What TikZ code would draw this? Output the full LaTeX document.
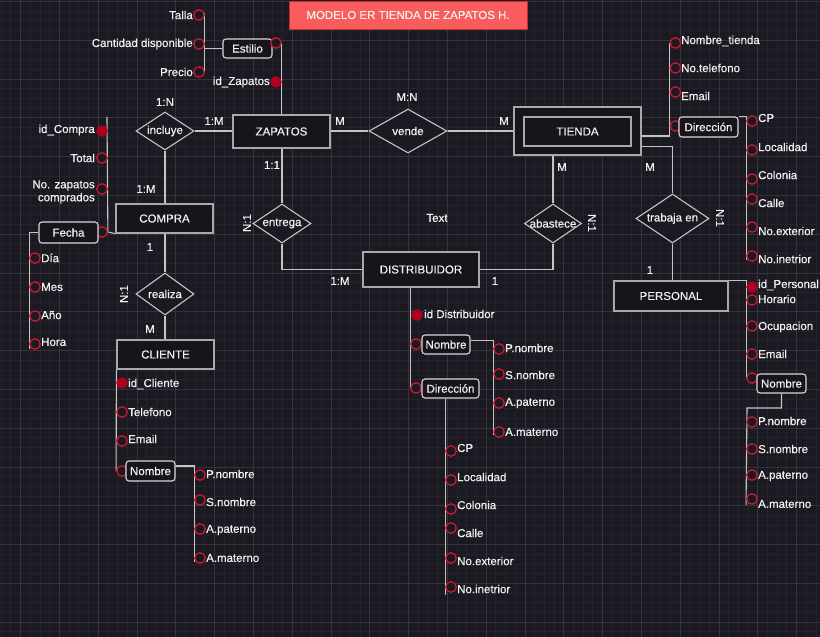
\documentclass[tikz,border=0pt]{standalone}
\usepackage{fontspec}
\setmainfont{Liberation Sans}[FakeBold=0.4]
\usetikzlibrary{shapes.geometric,calc}
\pgfdeclarelayer{back}
\pgfdeclarelayer{edges}
\pgfsetlayers{back,edges,main}
\definecolor{bg}{HTML}{1B1921}
\definecolor{gminor}{HTML}{25222C}
\definecolor{gmajor}{HTML}{36333D}
\definecolor{ln}{HTML}{C4C4C4}
\definecolor{ebord}{HTML}{A9A9A9}
\definecolor{cbord}{HTML}{D8D8D8}
\definecolor{efill}{HTML}{17151B}
\definecolor{attred}{HTML}{C8192F}
\definecolor{keyred}{HTML}{B0001F}
\definecolor{titlered}{HTML}{F85C5C}
\definecolor{titlebord}{HTML}{C03030}
\definecolor{txt}{HTML}{F2F2F2}
\tikzset{
  every node/.style={font=\fontsize{11.5}{13.5}\selectfont, text=txt},
  ent/.style={rectangle, draw=ebord, fill=efill, line width=1.2pt, inner sep=0pt},
  rel/.style={diamond, draw=ln, fill=bg, line width=1.1pt, inner sep=0pt},
  att/.style={circle, draw=attred, fill=bg, line width=1.3pt, minimum size=10.5pt, inner sep=0pt},
  keyatt/.style={circle, draw=keyred, fill=keyred, line width=1pt, minimum size=10.5pt, inner sep=0pt},
  comp/.style={rectangle, rounded corners=3pt, draw=cbord, fill=efill, line width=1.1pt, inner sep=0pt},
  con/.style={draw=ln, line width=1.1pt},
  txl/.style={inner sep=0pt},
  titlebox/.style={rectangle, fill=titlered, draw=titlebord, line width=0.8pt, inner sep=0pt},
}
\begin{document}
\begin{tikzpicture}[x=1pt,y=-1pt]
\useasboundingbox (0,0) rectangle (820,637);
\begin{pgfonlayer}{back}
\fill[bg] (0,0) rectangle (820,637);
\foreach \i in {0,...,84} \draw[gminor, line width=0.5pt] ({1.0+9.7*\i},0) -- ({1.0+9.7*\i},637);
\foreach \j in {0,...,65} \draw[gminor, line width=0.5pt] (0,{1.2+9.7*\j}) -- (820,{1.2+9.7*\j});
\foreach \i in {0,...,21} \draw[gmajor, line width=0.6pt] ({20.4+38.8*\i},0) -- ({20.4+38.8*\i},637);
\foreach \j in {0,...,16} \draw[gmajor, line width=0.6pt] (0,{1.2+38.8*\j}) -- (820,{1.2+38.8*\j});
\end{pgfonlayer}

% title
\node[titlebox, minimum width=238pt, minimum height=28pt] (title) at (408,15) {MODELO ER TIENDA DE ZAPATOS H.};

% entities
\node[ent, minimum width=97pt, minimum height=33pt] (zap) at (281.5,131.5) {ZAPATOS};
\node[ent, minimum width=97pt, minimum height=29pt] (compra) at (164.5,218.5) {COMPRA};
\node[ent, minimum width=97pt, minimum height=29pt] (cli) at (165.5,354.5) {CLIENTE};
\node[ent, minimum width=116pt, minimum height=35pt] (dist) at (421,269.5) {DISTRIBUIDOR};
\node[ent, minimum width=127pt, minimum height=48pt] (tienda) at (577.5,131) {};
\node[ent, minimum width=107pt, minimum height=29pt] (tiendai) at (577.5,131.5) {TIENDA};
\node[ent, minimum width=114pt, minimum height=30pt] (pers) at (671,296) {PERSONAL};

% relationships
\node[rel, minimum width=58pt, minimum height=38pt, label={center:incluye}] (incl) at (165,131) {};
\node[rel, minimum width=78pt, minimum height=44pt, label={center:vende}] (vende) at (408,131) {};
\node[rel, minimum width=58pt, minimum height=39pt, label={center:entrega}] (entr) at (282,223.5) {};
\node[rel, minimum width=57pt, minimum height=39pt, label={center:abastece}] (abas) at (553,223.5) {};
\node[rel, minimum width=58pt, minimum height=42pt, label={center:realiza}] (real) at (165,294) {};
\node[rel, minimum width=73pt, minimum height=49pt, label={center:trabaja en}] (trab) at (672.5,218.5) {};

% cardinalities
\node[txl] (k1) at (165,102) {1:N};
\node[txl] (k2) at (214,121) {1:M};
\node[txl] (k3) at (146,189) {1:M};
\node[txl] (k4) at (150,247) {1};
\node[txl] (k5) at (150,329) {M};
\node[txl, rotate=90] (k6) at (124,294) {N:1};
\node[txl] (k7) at (272,165) {1:1};
\node[txl, rotate=90] (k8) at (247,223) {N:1};
\node[txl] (k9) at (340,281) {1:M};
\node[txl] (k10) at (495,281) {1};
\node[txl] (k11) at (437,218) {Text};
\node[txl] (k12) at (340,121) {M};
\node[txl] (k13) at (407,97) {M:N};
\node[txl] (k14) at (504,121) {M};
\node[txl] (k15) at (562,167) {M};
\node[txl, rotate=-90] (k16) at (592,223) {N:1};
\node[txl] (k17) at (650,167) {M};
\node[txl, rotate=-90] (k18) at (720,218) {N:1};
\node[txl] (k19) at (650,270) {1};

% ZAPATOS attributes
\node[att] (talla) at (199,15) {};
\node[txl, anchor=east] (tallaT) at (193,15) {Talla};
\node[att] (cant) at (199,44) {};
\node[txl, anchor=east] (cantT) at (193,44) {Cantidad disponible};
\node[att] (precio) at (199,72) {};
\node[txl, anchor=east] (precioT) at (193,72) {Precio};
\node[comp, minimum width=49pt, minimum height=19pt] (estilio) at (247.5,48.5) {Estilio};
\node[att] (estC) at (276,43) {};
\node[keyatt] (idZ) at (276,82) {};
\node[txl, anchor=east] (idZT) at (270,82) {id\_Zapatos};

% COMPRA attributes
\coordinate (cTop) at (107,117);
\node[keyatt] (idC) at (102,131) {};
\node[txl, anchor=east] (idCT) at (95,130) {id\_Compra};
\node[att] (total) at (102,158) {};
\node[txl, anchor=east] (totalT) at (95,158) {Total};
\node[att] (nzap) at (102,189) {};
\node[txl, anchor=east, align=right, font=\fontsize{11.5}{13}\selectfont] (nzapT) at (95,192) {No. zapatos\\comprados};
\node[att] (fechaC) at (102,232) {};
\node[comp, minimum width=59pt, minimum height=21pt] (fecha) at (68.5,232.5) {Fecha};
\node[att] (dia) at (35,258) {};
\node[txl, anchor=west] (diaT) at (41,258) {Día};
\node[att] (mes) at (35,287) {};
\node[txl, anchor=west] (mesT) at (41,287) {Mes};
\node[att] (anio) at (35,316) {};
\node[txl, anchor=west] (anioT) at (41,315) {Año};
\node[att] (hora) at (35,344) {};
\node[txl, anchor=west] (horaT) at (41,342) {Hora};

% CLIENTE attributes
\node[keyatt] (idCl) at (122,383) {};
\node[txl, anchor=west] (idClT) at (128,384) {id\_Cliente};
\node[att] (tel) at (122,412) {};
\node[txl, anchor=west] (telT) at (128,412) {Telefono};
\node[att] (cemail) at (122,441) {};
\node[txl, anchor=west] (cemailT) at (128,439) {Email};
\node[att] (cnomC) at (122,471) {};
\node[comp, minimum width=49pt, minimum height=20pt] (cnom) at (150.5,471) {Nombre};
\node[att] (cpn) at (200,475) {};
\node[txl, anchor=west] (cpnT) at (206,474) {P.nombre};
\node[att] (csn) at (200,500) {};
\node[txl, anchor=west] (csnT) at (206,502) {S.nombre};
\node[att] (cap) at (200,529) {};
\node[txl, anchor=west] (capT) at (206,530) {A.paterno};
\node[att] (cam) at (200,558) {};
\node[txl, anchor=west] (camT) at (206,558) {A.materno};

% DISTRIBUIDOR attributes
\node[keyatt] (idD) at (417,315) {};
\node[txl, anchor=west] (idDT) at (424,314) {id Distribuidor};
\node[att] (dnomC) at (416,344) {};
\node[comp, minimum width=48pt, minimum height=19pt] (dnom) at (446,344.5) {Nombre};
\node[att] (ddirC) at (416,388) {};
\node[comp, minimum width=57pt, minimum height=19pt] (ddir) at (450.5,388.5) {Dirección};
\node[att] (dpn) at (499,349) {};
\node[txl, anchor=west] (dpnT) at (505,348) {P.nombre};
\node[att] (dsn) at (499,374) {};
\node[txl, anchor=west] (dsnT) at (505,375) {S.nombre};
\node[att] (dap) at (499,403) {};
\node[txl, anchor=west] (dapT) at (505,403) {A.paterno};
\node[att] (dam) at (499,432) {};
\node[txl, anchor=west] (damT) at (505,432) {A.materno};
\node[att] (dcp) at (451,451) {};
\node[txl, anchor=west] (dcpT) at (457,448) {CP};
\node[att] (dloc) at (451,480) {};
\node[txl, anchor=west] (dlocT) at (457,477) {Localidad};
\node[att] (dcol) at (451,509) {};
\node[txl, anchor=west] (dcolT) at (457,505) {Colonia};
\node[att] (dcal) at (451,528) {};
\node[txl, anchor=west] (dcalT) at (457,533) {Calle};
\node[att] (dne) at (451,558) {};
\node[txl, anchor=west] (dneT) at (457,561) {No.exterior};
\node[att] (dni) at (451,587) {};
\node[txl, anchor=west] (dniT) at (457,589) {No.inetrior};

% TIENDA attributes
\node[att] (tnomb) at (675.5,43) {};
\node[txl, anchor=west] (tnombT) at (681,41) {Nombre\_tienda};
\node[att] (ttel) at (675.5,68) {};
\node[txl, anchor=west] (ttelT) at (681,68) {No.telefono};
\node[att] (tem) at (675.5,92) {};
\node[txl, anchor=west] (temT) at (681,96) {Email};
\node[att] (tdirC) at (675.5,126) {};
\node[comp, minimum width=59pt, minimum height=20pt] (tdir) at (708.5,127) {Dirección};
\node[att] (tcp) at (752,121) {};
\node[txl, anchor=west] (tcpT) at (758,118) {CP};
\node[att] (tloc) at (752,150) {};
\node[txl, anchor=west] (tlocT) at (758,147) {Localidad};
\node[att] (tcol) at (752,179) {};
\node[txl, anchor=west] (tcolT) at (758,175) {Colonia};
\node[att] (tcal) at (752,199) {};
\node[txl, anchor=west] (tcalT) at (758,203) {Calle};
\node[att] (tne) at (752,227) {};
\node[txl, anchor=west] (tneT) at (758,231) {No.exterior};
\node[att] (tni) at (752,256) {};
\node[txl, anchor=west] (tniT) at (758,259) {No.inetrior};

% PERSONAL attributes
\node[keyatt] (idP) at (752,287) {};
\node[txl, anchor=west] (idPT) at (758,285) {id\_Personal};
\node[att] (hor) at (752,300) {};
\node[txl, anchor=west] (horT) at (758,299) {Horario};
\node[att] (ocu) at (752,326) {};
\node[txl, anchor=west] (ocuT) at (758,327) {Ocupacion};
\node[att] (pem) at (752,354) {};
\node[txl, anchor=west] (pemT) at (758,354) {Email};
\node[att] (pnomC) at (752,378) {};
\node[comp, minimum width=49pt, minimum height=19pt] (pnom) at (781.5,383.5) {Nombre};
\coordinate (pj) at (747,408);
\node[att] (ppn) at (752,422) {};
\node[txl, anchor=west] (ppnT) at (758,421) {P.nombre};
\node[att] (psn) at (752,449) {};
\node[txl, anchor=west] (psnT) at (758,449) {S.nombre};
\node[att] (pap) at (752,475) {};
\node[txl, anchor=west] (papT) at (758,476) {A.paterno};
\node[att] (pam) at (752,499) {};
\node[txl, anchor=west] (pamT) at (758,504) {A.materno};

% connectors
\begin{pgfonlayer}{edges}
\draw[con] (incl.east) -- (zap.west |- incl.east);
\draw[con] (incl.south) -- (compra.north -| incl.south);
\draw[con] (zap.east |- vende.west) -- (vende.west);
\draw[con] (vende.east) -- (tienda.west |- vende.east);
\draw[con] (compra.south -| real.north) -- (real.north);
\draw[con] (real.south) -- (cli.north -| real.south);
\draw[con] (zap.south -| entr.north) -- (entr.north);
\draw[con] (entr.south) |- (dist.west);
\draw[con] (dist.east) -| (abas.south);
\draw[con] (abas.north) -- (abas.north |- tienda.south);
\draw[con] ([yshift=9pt]tienda.south east) -| (trab.north);
\draw[con] (trab.south) -- (trab.south |- pers.north);
% zapatos
\draw[con] ([yshift=2pt]talla.east) -- (precio.east);
\draw[con] (estilio.west) -- (estilio.west -| talla.east);
\draw[con] (estC.east) -- (estC.east |- zap.north);
% compra
\draw[con] (cTop) -- (fechaC.east) -- (compra.south west);
\draw[con] (fecha.west) -| (hora.west) -- ++(0,5);
% cliente
\draw[con] (cli.south west) -- (cnomC.west);
\draw[con] ([yshift=5pt]cnom.east) -| (cam.west) -- ++(0,4);
% distribuidor
\draw[con] (ddirC.west |- dist.south) -- (ddirC.west);
\draw[con] ([yshift=4pt]dnom.east) -| (dam.west) -- ++(0,3);
\draw[con] (dni.west |- ddir.south) -- (dni.west) -- ++(0,8);
% tienda
\draw[con] ([yshift=-5pt]tienda.east) -| (tnomb.west);
\draw[con] (tdir.north east) -| (tni.west) -- ++(0,4);
% personal
\draw[con] (pers.north east) -| (pnomC.west);
\draw[con] (pnom.south) |- (pj) -- (pam.west) -- ++(0,6);
\end{pgfonlayer}
\end{tikzpicture}
\end{document}
